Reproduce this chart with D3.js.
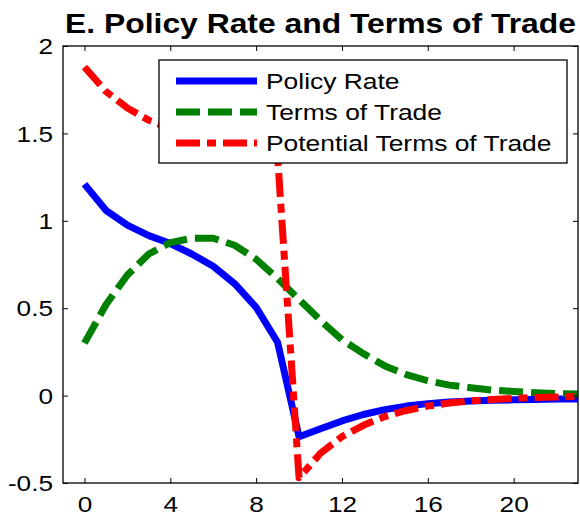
<!DOCTYPE html>
<html>
<head>
<meta charset="utf-8">
<script src="https://cdn.jsdelivr.net/npm/d3@7"></script>
<style>
  html, body { margin: 0; padding: 0; background: #fff; }
  svg { display: block; }
  text { font-family: "Liberation Sans", Arial, sans-serif; fill: #000; }
</style>
</head>
<body>
<svg id="chart" width="580" height="519"></svg>
<script>
// ---- data ----
const periods = d3.range(0, 24);
const policyRate = [1.21, 1.06, 0.975, 0.915, 0.87, 0.81, 0.74, 0.64, 0.505, 0.305,
  -0.235, -0.19, -0.145, -0.108, -0.08, -0.06, -0.046, -0.037, -0.031, -0.027, -0.024, -0.022, -0.02, -0.019];
const termsOfTrade = [0.30, 0.52, 0.69, 0.81, 0.875, 0.9, 0.9, 0.86, 0.78, 0.67,
  0.55, 0.43, 0.32, 0.24, 0.17, 0.12, 0.085, 0.06, 0.045, 0.032, 0.024, 0.017, 0.012, 0.009];
const potentialToT = [1.88, 1.74, 1.645, 1.575, 1.53, 1.49, 1.46, 1.43, 1.40, 1.37,
  -0.47, -0.33, -0.235, -0.17, -0.12, -0.085, -0.06, -0.042, -0.03, -0.022, -0.016, -0.011, -0.008, -0.005];
const seriesNames = ["Policy Rate", "Terms of Trade", "Potential Terms of Trade"];
const xTicks = [0, 4, 8, 12, 16, 20];
const yTicks = [-0.5, 0, 0.5, 1, 1.5, 2];
const yTickLabels = ["-0.5", "0", "0.5", "1", "1.5", "2"];
const titleText = "E. Policy Rate and Terms of Trade";

// ---- layout ----
const svg = d3.select("#chart");
const L = 63, R = 578, T = 46, B = 483;
const x = d3.scaleLinear().domain([-1, 23]).range([L, R]);
const y = d3.scaleLinear().domain([-0.5, 2]).range([B, T]);
const SX = 1.19; // horizontal stretch of the reference's text

const styles = [
  { color: "#0000ff", dash: null },
  { color: "#008000", dash: "24,8" },
  { color: "#ff0000", dash: "24,7,9,7" }
];
const data = [policyRate, termsOfTrade, potentialToT];

// lines
const line = d3.line().x((d, i) => x(periods[i])).y(d => y(d));
data.forEach((vals, k) => {
  svg.append("path")
    .datum(vals)
    .attr("d", line)
    .attr("fill", "none")
    .attr("stroke", styles[k].color)
    .attr("stroke-width", 7)
    .attr("stroke-linejoin", "round")
    .attr("stroke-linecap", "butt")
    .attr("stroke-dasharray", styles[k].dash);
});

// axes (MATLAB style box with inward ticks)
const tickLen = 5;
const axB = svg.append("g").attr("transform", `translate(0,${B})`)
  .call(d3.axisBottom(x).tickValues(xTicks).tickSizeInner(-tickLen).tickSizeOuter(0).tickPadding(0));
const axT = svg.append("g").attr("transform", `translate(0,${T})`)
  .call(d3.axisTop(x).tickValues(xTicks).tickSizeInner(-tickLen).tickSizeOuter(0).tickFormat(""));
const axL = svg.append("g").attr("transform", `translate(${L},0)`)
  .call(d3.axisLeft(y).tickValues(yTicks).tickSizeInner(-tickLen).tickSizeOuter(0)
    .tickFormat((d, i) => yTickLabels[i]));
const axR = svg.append("g").attr("transform", `translate(${R},0)`)
  .call(d3.axisRight(y).tickValues(yTicks).tickSizeInner(-tickLen).tickSizeOuter(0).tickFormat(""));
[axB, axT, axL, axR].forEach(a => {
  a.select(".domain").remove();
  a.selectAll(".tick line").attr("stroke", "#000").attr("stroke-width", 1);
});
svg.append("rect").attr("x", L).attr("y", T).attr("width", R - L).attr("height", B - T)
  .attr("fill", "none").attr("stroke", "#000").attr("stroke-width", 1.3);

// tick labels
axB.selectAll(".tick text").each(function(d) {
  const t = d3.select(this);
  t.attr("y", null).attr("dy", null)
   .attr("font-size", 22).attr("font-family", "Liberation Sans, Arial, sans-serif")
   .attr("text-anchor", "middle")
   .attr("transform", `translate(0,${512 - B}) scale(${SX},1)`);
});
axL.selectAll(".tick text").each(function(d) {
  const t = d3.select(this);
  t.attr("x", null).attr("dy", "0.35em")
   .attr("font-size", 22).attr("font-family", "Liberation Sans, Arial, sans-serif")
   .attr("text-anchor", "end")
   .attr("transform", `translate(${53 - L},0) scale(${SX},1)`);
});

// title
svg.append("text")
  .attr("transform", `translate(${(L + R) / 2},33) scale(1.18,1)`)
  .attr("text-anchor", "middle")
  .attr("font-size", 27)
  .attr("font-weight", "bold")
  .text(titleText);

// legend
const lg = svg.append("g");
lg.append("rect").attr("x", 159).attr("y", 60).attr("width", 408).attr("height", 103)
  .attr("fill", "#fff").attr("stroke", "#000").attr("stroke-width", 1.3);
const rowsY = [81, 112, 143];
seriesNames.forEach((name, k) => {
  lg.append("line")
    .attr("x1", 176).attr("x2", 257).attr("y1", rowsY[k]).attr("y2", rowsY[k])
    .attr("stroke", styles[k].color).attr("stroke-width", 7)
    .attr("stroke-dasharray", styles[k].dash);
  lg.append("text")
    .attr("transform", `translate(266,${rowsY[k] + 7.5}) scale(1.2,1)`)
    .attr("font-size", 22)
    .text(name);
});
</script>
</body>
</html>
